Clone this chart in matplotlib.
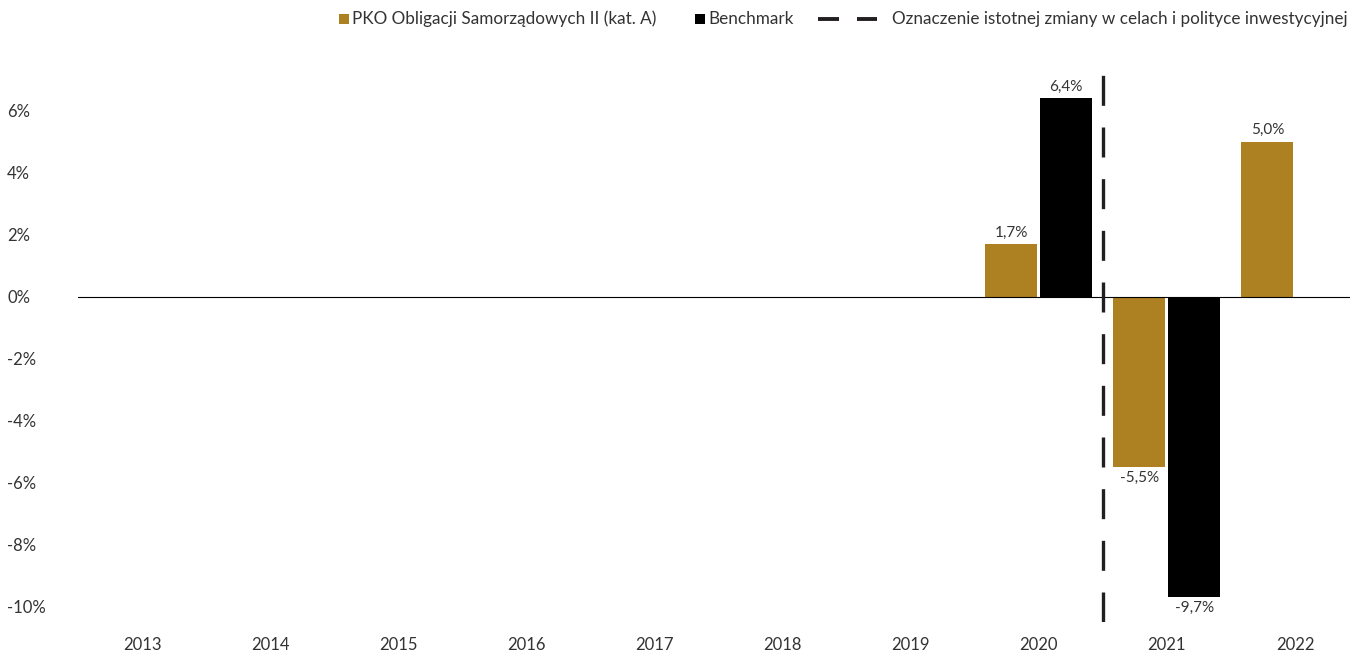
import matplotlib
matplotlib.use("Agg")
import matplotlib.pyplot as plt
from matplotlib.lines import Line2D
from matplotlib.patches import Rectangle
from matplotlib.offsetbox import HPacker, DrawingArea, TextArea, AnchoredOffsetbox
import numpy as np

plt.rcParams['font.family'] = ['Lato', 'DejaVu Sans']

years = ['2013', '2014', '2015', '2016', '2017', '2018', '2019', '2020', '2021', '2022']
fund = [np.nan, np.nan, np.nan, np.nan, np.nan, np.nan, np.nan, 1.7, -5.5, 5.0]
bench = [np.nan, np.nan, np.nan, np.nan, np.nan, np.nan, np.nan, 6.4, -9.7, np.nan]
yticks = [6, 4, 2, 0, -2, -4, -6, -8, -10]
change_pos = 7.5
fund_name = 'PKO Obligacji Samorządowych II (kat. A)'
bench_name = 'Benchmark'
line_name = 'Oznaczenie istotnej zmiany w celach i polityce inwestycyjnej'

GOLD = '#AD8022'
BLACK = '#000000'
DASH = '#231f20'
TXT = '#333333'

W, H = 1350, 654
fig = plt.figure(figsize=(W / 100, H / 100), dpi=100)
left, right, top, bottom = 78, 1359, 64, 622
ax = fig.add_axes([left / W, 1 - bottom / H, (right - left) / W, (bottom - top) / H])

x = np.arange(len(years))
bw = 0.405
off = 0.215
ax.bar(x - off, fund, bw, color=GOLD, zorder=2)
ax.bar(x + off, bench, bw, color=BLACK, zorder=2)

def fmt(v):
    return f"{v:.1f}%".replace('.', ',')

for xs, vals in ((x - off, fund), (x + off, bench)):
    for xi, v in zip(xs, vals):
        if np.isnan(v):
            continue
        if v >= 0:
            ax.annotate(fmt(v), (xi, v), xytext=(0, 3), textcoords='offset points',
                        ha='center', va='bottom', fontsize=11, color=TXT)
        else:
            ax.annotate(fmt(v), (xi, v), xytext=(0, -3), textcoords='offset points',
                        ha='center', va='top', fontsize=11, color=TXT)

ax.axhline(0, color='black', lw=0.8, zorder=3)
ax.axvline(change_pos, ymin=0.0, ymax=0.985, color=DASH, lw=2.4,
           dashes=(9, 6.5), zorder=4)

ax.set_xlim(-0.5, len(years) - 0.5)
ax.set_ylim(-10.5, 7.5)
ax.set_xticks(x)
ax.set_xticklabels(years)
ax.set_yticks(yticks)
ax.set_yticklabels([f"{t}%" for t in yticks])
ax.tick_params(axis='both', length=0, labelsize=12, colors=TXT)
ax.tick_params(axis='x', pad=11)
ax.tick_params(axis='y', pad=51)
for lab in ax.get_yticklabels():
    lab.set_horizontalalignment('left')
for s in ax.spines.values():
    s.set_visible(False)

# custom legend
tp = dict(fontsize=12.3, color=TXT)

def square(color):
    da = DrawingArea(7.2, 7.2, 0, 0)
    da.add_artist(Rectangle((0, 0), 7.2, 7.2, facecolor=color, edgecolor='none'))
    return da

def spacer(w):
    return DrawingArea(w, 1, 0, 0)

dash_da = DrawingArea(42.5, 7.2, 0, 0)
dash_da.add_artist(Line2D([0, 15], [3.6, 3.6], color=DASH, lw=2.8, solid_capstyle='butt'))
dash_da.add_artist(Line2D([27.5, 42.5], [3.6, 3.6], color=DASH, lw=2.8, solid_capstyle='butt'))

items = [square(GOLD), spacer(2.2), TextArea(fund_name, textprops=tp), spacer(28),
         square(BLACK), spacer(2.2), TextArea(bench_name, textprops=tp), spacer(18),
         dash_da, spacer(10.8), TextArea(line_name, textprops=tp)]
pack = HPacker(children=items, align='center', pad=0, sep=0)
anch = AnchoredOffsetbox(loc='center right', child=pack, pad=0, borderpad=0,
                         frameon=False, bbox_to_anchor=(1348 / W, 1 - 19 / H),
                         bbox_transform=fig.transFigure)
fig.add_artist(anch)

fig.savefig('out.png', dpi=100)
